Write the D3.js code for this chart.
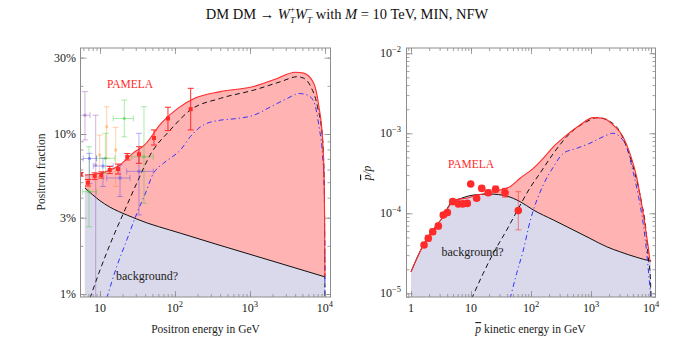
<!DOCTYPE html>
<html>
<head>
<meta charset="utf-8">
<script src="https://cdn.jsdelivr.net/npm/d3@7/dist/d3.min.js"></script>
<style>
  body { margin: 0; background: #fff; }
  svg text { font-family: "Liberation Serif", "Times New Roman", serif; }
</style>
</head>
<body>
<svg id="chart" width="695" height="350"></svg>
<script>
// ---- left panel: positron fraction ----
const posBgE = [6.3, 10, 31, 118, 1000, 10000];
const posBgF = [0.046, 0.0383, 0.0294, 0.024, 0.0177, 0.0128];

const posTotE = [6.3, 10, 13.6, 18.5, 27.6, 39.4, 65.7, 110, 183, 403, 1120, 2060, 4050, 5200, 7100, 8300, 9300, 9800, 10000];
const posTotF = [0.0554, 0.0568, 0.0596, 0.064, 0.076, 0.0854, 0.117, 0.145, 0.167, 0.184, 0.198, 0.218, 0.243, 0.24, 0.207, 0.148, 0.092, 0.0447, 0.0128];

const posDmE = [7.35, 10, 15, 20.5, 31, 46.7, 86.6, 160, 403, 1120, 2540, 4270, 5200, 6450, 7950, 9300, 9800, 10000];
const posDmF = [0.0094, 0.0141, 0.0228, 0.0319, 0.0494, 0.074, 0.106, 0.141, 0.167, 0.188, 0.212, 0.228, 0.223, 0.198, 0.148, 0.092, 0.0447, 0.009];

const posDm2E = [12.3, 16.7, 22.8, 31, 42, 49, 70, 86.6, 118, 160, 240, 403, 675, 1125, 1890, 3160, 4520, 5850, 7100, 8330, 9300, 9800, 10000];
const posDm2F = [0.0094, 0.0148, 0.0218, 0.0319, 0.0447, 0.0541, 0.0656, 0.0705, 0.0794, 0.0962, 0.114, 0.122, 0.125, 0.131, 0.148, 0.167, 0.179, 0.175, 0.159, 0.111, 0.072, 0.0447, 0.009];

// PAMELA positrons: [E, f, fLo, fHi]
const pamelaPos = [
  [5.53, 0.056, 0.0545, 0.0575], [6.92, 0.0496, 0.0473, 0.052], [8.5, 0.0547, 0.052, 0.0572],
  [10.4, 0.0555, 0.053, 0.058], [13.5, 0.0596, 0.0566, 0.0627], [17.4, 0.0604, 0.0562, 0.0649],
  [23.1, 0.072, 0.0688, 0.0755], [33.1, 0.0747, 0.0656, 0.0833], [52.5, 0.0943, 0.0853, 0.106],
  [80.6, 0.125, 0.105, 0.147], [162, 0.143, 0.106, 0.193]
];

// older experiments: [E, f, fLo, fHi, ELo, EHi]
const oldPurple = [
  [6.31, 0.131, 0.0917, 0.184, 5.41, 7.36],
  [8.77, 0.064, 0.005, 0.131, 8.77, 8.77]
];
const oldOrange = [
  [9.9, 0.0739, 0.054, 0.0986, 9.9, 9.9],
  [12.3, 0.111, 0.0705, 0.148, 12.3, 12.3],
  [16.2, 0.0794, 0.047, 0.110, 16.2, 16.2]
];
const oldGreen = [
  [7.14, 0.0436, 0.0263, 0.0833, 5.88, 9.0],
  [11.9, 0.0705, 0.0568, 0.101, 9.0, 15.8],
  [21.1, 0.125, 0.096, 0.163, 15.0, 27.8],
  [38.6, 0.072, 0.0369, 0.148, 26.5, 51.3]
];
const oldBlue = [
  [7.24, 0.0703, 0.049, 0.0757, 5.97, 9.0],
  [10.96, 0.0631, 0.047, 0.0705, 8.14, 15.0],
  [18.5, 0.0531, 0.0407, 0.0641, 12.3, 25.1],
  [33.1, 0.0584, 0.0312, 0.101, 22.7, 51.3]
];

// ---- right panel: antiproton / proton ----
const pbBgE = [1, 1.6, 2.68, 3.45, 4.18, 4.82, 5.78, 10.9, 20.7, 39.4, 65.7, 109, 237, 447, 955, 1820, 3020, 5750, 9550, 10000];
const pbBgV = [1.86e-5, 4.0e-5, 7.15e-5, 9.07e-5, 1.21e-4, 1.40e-4, 1.47e-4, 1.69e-4, 1.74e-4, 1.64e-4, 1.40e-4, 1.10e-4, 8.24e-5, 6.49e-5, 4.87e-5, 3.82e-5, 3.31e-5, 2.82e-5, 2.56e-5, 2.55e-5];

const pbTotE = [1, 1.6, 2.68, 3.45, 4.47, 5.78, 8.47, 12.4, 16, 30.4, 44.7, 65.6, 109, 160, 237, 395, 656, 1090, 1600, 2340, 3420, 4450, 5750, 7400, 9000, 9800, 10000];
const pbTotV = [1.86e-5, 4.0e-5, 7.15e-5, 9.1e-5, 1.27e-4, 1.49e-4, 1.54e-4, 1.69e-4, 1.74e-4, 1.95e-4, 2.15e-4, 2.74e-4, 3.65e-4, 4.87e-4, 6.8e-4, 9.53e-4, 1.27e-3, 1.57e-3, 1.54e-3, 1.27e-3, 9.07e-4, 5.62e-4, 2.87e-4, 1.0e-4, 3.82e-5, 2.5e-5, 2.55e-5];

const pbDmE = [10.2, 16, 23.5, 39.4, 57.7, 95.9, 141, 237, 447, 851, 1250, 2090, 3020, 3900, 5410, 6810, 8250, 9000, 9800, 10000];
const pbDmV = [8.5e-6, 1.78e-5, 3.16e-5, 6.18e-5, 1.05e-4, 2.07e-4, 3.16e-4, 5.62e-4, 1.0e-3, 1.40e-3, 1.57e-3, 1.40e-3, 1.05e-3, 6.8e-4, 3.16e-4, 1.47e-4, 6.18e-5, 2.87e-5, 1.47e-5, 8.5e-6];

const pbDm2E = [44.7, 57.7, 74.6, 95.9, 160, 237, 347, 577, 955, 1600, 2340, 3020, 3900, 5100, 6200, 7400, 8500, 9350, 10000];
const pbDm2V = [8.5e-6, 1.78e-5, 3.48e-5, 7.8e-5, 2.26e-4, 3.82e-4, 5.62e-4, 6.49e-4, 7.5e-4, 9.07e-4, 1.0e-3, 9.07e-4, 6.8e-4, 3.16e-4, 1.61e-4, 7.5e-5, 3.16e-5, 1.47e-5, 8.5e-6];

// PAMELA antiprotons: [E, v, vLo, vHi]
const pamelaPbar = [
  [1.65, 4.02e-5, 3.75e-5, 4.3e-5], [1.94, 4.87e-5, 4.5e-5, 5.25e-5], [2.30, 5.89e-5, 5.45e-5, 6.35e-5],
  [2.85, 6.93e-5, 6.4e-5, 7.5e-5], [3.45, 9.53e-5, 8.9e-5, 1.02e-4], [4.03, 1.02e-4, 9.5e-5, 1.09e-4],
  [4.95, 1.40e-4, 1.32e-4, 1.48e-4], [6.14, 1.31e-4, 1.24e-4, 1.38e-4], [7.27, 1.31e-4, 1.24e-4, 1.38e-4],
  [8.67, 1.33e-4, 1.26e-4, 1.41e-4], [9.89, 2.32e-4, 2.32e-4, 2.32e-4], [12.4, 1.54e-4, 1.45e-4, 1.64e-4],
  [15.1, 2.05e-4, 1.9e-4, 2.2e-4], [19.4, 1.81e-4, 1.68e-4, 1.95e-4], [25.7, 2.0e-4, 1.84e-4, 2.18e-4],
  [36.9, 1.81e-4, 1.6e-4, 2.05e-4], [61.4, 1.08e-4, 6.2e-5, 1.86e-4]
];

const posYTicks = [0.01, 0.03, 0.1, 0.3];
const posYLabels = ['1%', '3%', '10%', '30%'];
const pbYTicks = [1e-5, 1e-4, 1e-3, 1e-2];

const PINK = '#ffb3b3';
const LAVENDER = '#d9d9eb';
const RED = '#ff2a2a';
const BLUE = '#3333ff';
const FRAME = '#8c8c8c';

const svg = d3.select('#chart');

function minorValues(domain) {
  const out = [];
  const lo = Math.floor(Math.log10(domain[0]));
  const hi = Math.ceil(Math.log10(domain[1]));
  for (let d = lo; d <= hi; d++) {
    for (let k = 1; k <= 9; k++) {
      const v = k * Math.pow(10, d);
      if (v >= domain[0] && v <= domain[1]) out.push(v);
    }
  }
  return out;
}

function makePanel(id, box, xDomain, yDomain) {
  const x = d3.scaleLog().domain(xDomain).range([box.left, box.right]);
  const y = d3.scaleLog().domain(yDomain).range([box.bottom, box.top]);
  const g = svg.append('g').attr('class', id);
  g.append('clipPath').attr('id', 'clip-' + id)
    .append('rect')
    .attr('x', box.left).attr('y', box.top)
    .attr('width', box.right - box.left).attr('height', box.bottom - box.top);
  const plot = g.append('g').attr('clip-path', `url(#clip-${id})`);
  return { x, y, g, plot, box };
}

function drawCurves(p, d) {
  const yb = p.box.bottom;
  const area = (E, V) => d3.area()
    .x((v, i) => p.x(E[i]))
    .y0(yb)
    .y1((v) => p.y(v))
    .curve(d3.curveMonotoneX)(V);
  const line = (E, V) => d3.line()
    .x((v, i) => p.x(E[i]))
    .y((v) => p.y(v))
    .curve(d3.curveMonotoneX)(V);

  p.plot.append('path').attr('d', area(d.totE, d.totV)).attr('fill', PINK);
  p.plot.append('path').attr('d', area(d.bgE, d.bgV)).attr('fill', LAVENDER);
  p.plot.append('path').attr('d', line(d.bgE, d.bgV))
    .attr('fill', 'none').attr('stroke', '#111').attr('stroke-width', 1);
  p.plot.append('path').attr('d', line(d.dmE, d.dmV))
    .attr('fill', 'none').attr('stroke', '#111').attr('stroke-width', 1)
    .attr('stroke-dasharray', '5,3.5');
  p.plot.append('path').attr('d', line(d.dm2E, d.dm2V))
    .attr('fill', 'none').attr('stroke', BLUE).attr('stroke-width', 1)
    .attr('stroke-dasharray', '5,3,1.2,3');
  p.plot.append('path').attr('d', line(d.totE, d.totV))
    .attr('fill', 'none').attr('stroke', RED).attr('stroke-width', 1.1);
}

function drawFrame(p, xDomain, yDomain, yMajor) {
  const b = p.box;
  const xMinor = minorValues(xDomain);
  const yMinor = minorValues(yDomain);
  const xMajor = xMinor.filter((v) => Math.abs(Math.log10(v) - Math.round(Math.log10(v))) < 1e-9);
  const ax = p.g.append('g').attr('class', 'frame');

  const sides = [
    [d3.axisBottom(p.x), `translate(0,${b.bottom})`, xMinor, xMajor],
    [d3.axisTop(p.x), `translate(0,${b.top})`, xMinor, xMajor],
    [d3.axisLeft(p.y), `translate(${b.left},0)`, yMinor, yMajor],
    [d3.axisRight(p.y), `translate(${b.right},0)`, yMinor, yMajor]
  ];
  sides.forEach(([axis, tr, minor, major]) => {
    ax.append('g').attr('transform', tr)
      .call(axis.tickValues(minor).tickSize(-3).tickSizeOuter(0).tickFormat(''));
    ax.append('g').attr('transform', tr)
      .call(axis.tickValues(major).tickSize(-6).tickSizeOuter(0).tickFormat(''));
  });
  ax.selectAll('.domain').remove();
  ax.selectAll('line').attr('stroke', FRAME).attr('stroke-width', 0.8);
  ax.append('rect')
    .attr('x', b.left).attr('y', b.top)
    .attr('width', b.right - b.left).attr('height', b.bottom - b.top)
    .attr('fill', 'none').attr('stroke', FRAME).attr('stroke-width', 1);
  return xMajor;
}

function powerLabel(g, x, y, exp, anchor) {
  const t = g.append('text').attr('x', x).attr('y', y)
    .attr('text-anchor', anchor).attr('font-size', 12).attr('fill', '#222');
  if (exp === 0) { t.text('1'); return; }
  if (exp === 1) { t.text('10'); return; }
  t.append('tspan').text('10');
  t.append('tspan').attr('dy', -5).attr('font-size', 8.5).text(exp < 0 ? '\u2212' + (-exp) : String(exp));
}

// ---------------- left panel ----------------
const posXDomain = [5.5, 11840];
const posYDomain = [0.00958, 0.3447];
const L = makePanel('left', { left: 80.5, right: 330.5, top: 48, bottom: 297 }, posXDomain, posYDomain);

drawCurves(L, {
  bgE: posBgE, bgV: posBgF, totE: posTotE, totV: posTotF,
  dmE: posDmE, dmV: posDmF, dm2E: posDm2E, dm2V: posDm2F
});

function drawOld(p, rows, color) {
  const g = p.plot.append('g').attr('stroke', color).attr('stroke-opacity', 0.38)
    .attr('fill', color).attr('fill-opacity', 0.38).attr('stroke-width', 1);
  rows.forEach(([E, f, lo, hi, eLo, eHi]) => {
    const cx = p.x(E), cy = p.y(f);
    g.append('line').attr('x1', cx).attr('x2', cx).attr('y1', p.y(lo)).attr('y2', p.y(hi));
    g.append('line').attr('x1', cx - 3).attr('x2', cx + 3).attr('y1', p.y(lo)).attr('y2', p.y(lo));
    g.append('line').attr('x1', cx - 3).attr('x2', cx + 3).attr('y1', p.y(hi)).attr('y2', p.y(hi));
    if (eHi > eLo) {
      g.append('line').attr('x1', p.x(eLo)).attr('x2', p.x(eHi)).attr('y1', cy).attr('y2', cy);
      g.append('line').attr('x1', p.x(eLo)).attr('x2', p.x(eLo)).attr('y1', cy - 3).attr('y2', cy + 3);
      g.append('line').attr('x1', p.x(eHi)).attr('x2', p.x(eHi)).attr('y1', cy - 3).attr('y2', cy + 3);
    }
    g.append('rect').attr('x', cx - 1.5).attr('y', cy - 1.5).attr('width', 3).attr('height', 3).attr('stroke', 'none');
  });
}
drawOld(L, oldPurple, '#8a3aa8');
drawOld(L, oldOrange, '#ff8a1a');
drawOld(L, oldGreen, '#22cc22');
drawOld(L, oldBlue, '#3a3aee');

const posPts = L.plot.append('g').attr('stroke', RED).attr('fill', RED).attr('stroke-width', 1);
pamelaPos.forEach(([E, f, lo, hi]) => {
  const cx = L.x(E);
  posPts.append('line').attr('x1', cx).attr('x2', cx).attr('y1', L.y(lo)).attr('y2', L.y(hi));
  posPts.append('line').attr('x1', cx - 3).attr('x2', cx + 3).attr('y1', L.y(lo)).attr('y2', L.y(lo));
  posPts.append('line').attr('x1', cx - 3).attr('x2', cx + 3).attr('y1', L.y(hi)).attr('y2', L.y(hi));
  posPts.append('rect').attr('x', cx - 2).attr('y', L.y(f) - 2).attr('width', 4).attr('height', 4).attr('stroke', 'none');
});

const lMajor = drawFrame(L, posXDomain, posYDomain, posYTicks);
lMajor.forEach((v) => powerLabel(L.g, L.x(v), 311.5, Math.round(Math.log10(v)), 'middle'));
posYTicks.forEach((v, i) => {
  L.g.append('text').attr('x', 76).attr('y', L.y(v) + 4)
    .attr('text-anchor', 'end').attr('font-size', 12).attr('fill', '#222').text(posYLabels[i]);
});

L.g.append('text').attr('x', 130).attr('y', 88).attr('text-anchor', 'middle')
  .attr('font-size', 11.5).attr('fill', RED).text('PAMELA');
L.g.append('text').attr('x', 116).attr('y', 280)
  .attr('font-size', 12).attr('fill', '#222').text('background?');
L.g.append('text').attr('x', 205.5).attr('y', 333).attr('text-anchor', 'middle')
  .attr('font-size', 11.5).attr('fill', '#222').text('Positron energy in GeV');
L.g.append('text').attr('transform', 'translate(45,172) rotate(-90)').attr('text-anchor', 'middle')
  .attr('font-size', 11.5).attr('fill', '#222').text('Positron fraction');

// ---------------- right panel ----------------
const pbXDomain = [0.841, 11885];
const pbYDomain = [8.99e-6, 0.01164];
const R = makePanel('right', { left: 406.5, right: 655.5, top: 48, bottom: 297 }, pbXDomain, pbYDomain);

drawCurves(R, {
  bgE: pbBgE, bgV: pbBgV, totE: pbTotE, totV: pbTotV,
  dmE: pbDmE, dmV: pbDmV, dm2E: pbDm2E, dm2V: pbDm2V
});

const pbPts = R.plot.append('g').attr('stroke', RED).attr('fill', RED).attr('stroke-width', 1);
pamelaPbar.forEach(([E, v, lo, hi], i) => {
  const cx = R.x(E);
  const last = i === pamelaPbar.length - 1;
  if (hi > lo) {
    const eb = pbPts.append('g').attr('stroke-opacity', last ? 0.55 : 1);
    eb.append('line').attr('x1', cx).attr('x2', cx).attr('y1', R.y(lo)).attr('y2', R.y(hi));
    eb.append('line').attr('x1', cx - 3).attr('x2', cx + 3).attr('y1', R.y(lo)).attr('y2', R.y(lo));
    eb.append('line').attr('x1', cx - 3).attr('x2', cx + 3).attr('y1', R.y(hi)).attr('y2', R.y(hi));
  }
  pbPts.append('circle').attr('cx', cx).attr('cy', R.y(v)).attr('r', 3.8).attr('stroke', 'none');
});

const rMajor = drawFrame(R, pbXDomain, pbYDomain, pbYTicks);
rMajor.forEach((v) => powerLabel(R.g, R.x(v), 311.5, Math.round(Math.log10(v)), 'middle'));
pbYTicks.forEach((v) => powerLabel(R.g, 401, R.y(v) + 4, Math.round(Math.log10(v)), 'end'));

R.g.append('text').attr('x', 471).attr('y', 168).attr('text-anchor', 'middle')
  .attr('font-size', 11.5).attr('fill', RED).text('PAMELA');
R.g.append('text').attr('x', 441.5).attr('y', 256)
  .attr('font-size', 12).attr('fill', '#222').text('background?');
const rx = R.g.append('text').attr('x', 530.5).attr('y', 333).attr('text-anchor', 'middle')
  .attr('font-size', 11.5).attr('fill', '#222');
rx.append('tspan').attr('font-style', 'italic').attr('text-decoration', 'overline').text('p');
rx.append('tspan').text(' kinetic energy in GeV');
const ry = R.g.append('text').attr('transform', 'translate(371,173) rotate(-90)').attr('text-anchor', 'middle')
  .attr('font-size', 11.5).attr('fill', '#222').attr('font-style', 'italic');
ry.append('tspan').attr('text-decoration', 'overline').text('p');
ry.append('tspan').text('/p');

// ---------------- title ----------------
const title = svg.append('text').attr('x', 347).attr('y', 19).attr('text-anchor', 'middle')
  .attr('font-size', 14.5).attr('fill', '#111');
title.append('tspan').text('DM DM \u2192 ');
title.append('tspan').attr('font-style', 'italic').text('W');
title.append('tspan').attr('font-size', 9).attr('dy', -7).text('+');
title.append('tspan').attr('font-size', 9).attr('font-style', 'italic').attr('dx', -5.1).attr('dy', 11).text('T');
title.append('tspan').attr('font-style', 'italic').attr('dy', -4).text('W');
title.append('tspan').attr('font-size', 9).attr('dy', -7).text('\u2212');
title.append('tspan').attr('font-size', 9).attr('font-style', 'italic').attr('dx', -5.1).attr('dy', 11).text('T');
title.append('tspan').attr('dy', -4).text(' with ');
title.append('tspan').attr('font-style', 'italic').text('M');
title.append('tspan').text(' = 10 TeV, MIN, NFW');
</script>
</body>
</html>
